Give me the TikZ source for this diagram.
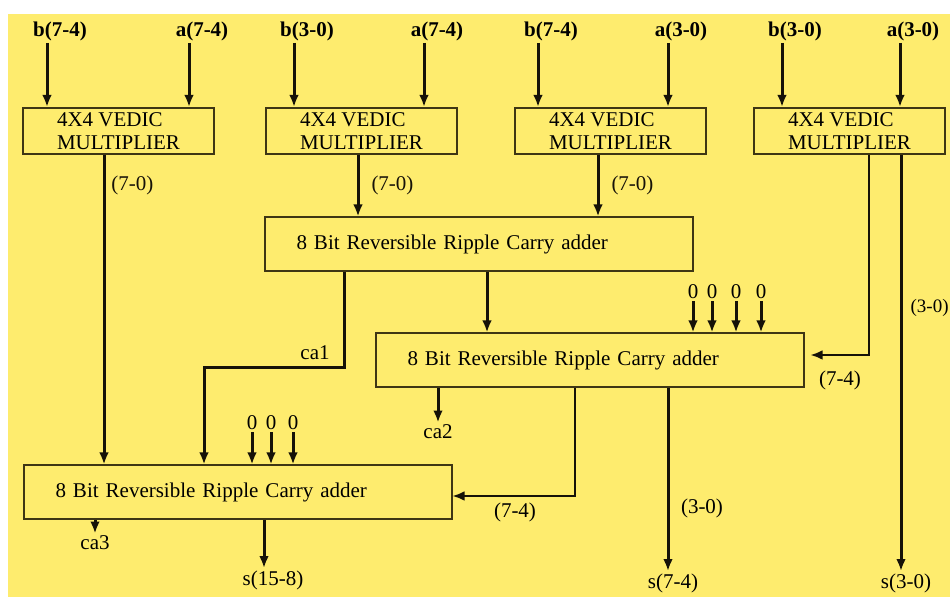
\documentclass[tikz,border=0pt]{standalone}
\usepackage{fontspec}
\setmainfont{Liberation Serif}
\usepackage{xcolor}
\definecolor{padyellow}{RGB}{254,236,110}
\definecolor{boxline}{RGB}{62,54,20}
\definecolor{wireblk}{RGB}{22,18,8}
\usepackage{tikz}
\usetikzlibrary{positioning,arrows.meta,calc}

\begin{document}
\begin{tikzpicture}[
  x=0.5pt, y=-0.5pt,
  font=\fontsize{10.5}{11.5}\selectfont,
  mult/.style={draw=boxline, line width=1pt, minimum width=95.5pt, minimum height=23pt, align=left, inner sep=2pt},
  adder/.style={draw=boxline, line width=1pt, text width=182pt, inner xsep=16pt, minimum height=27pt, align=left},
  wire/.style={-{Latex[length=6pt,width=4.8pt]}, line width=1.5pt, wireblk},
  thinwire/.style={wire, line width=0.9pt},
  inlbl/.style={font=\fontsize{10.5}{11.5}\selectfont\bfseries, inner sep=1pt},
  lbl/.style={inner sep=1pt}]
  \useasboundingbox (0,0) rectangle (950,597);
  \fill[white] (0,0) rectangle (950,597);
  \fill[padyellow] (8,14) rectangle (950,597);

  % multipliers
  \node[mult] (m1) at (118.5,131) {4X4 VEDIC\\MULTIPLIER};
  \node[mult, right=25pt of m1] (m2) {4X4 VEDIC\\MULTIPLIER};
  \node[mult, right=28pt of m2] (m3) {4X4 VEDIC\\MULTIPLIER};
  \node[mult, right=23pt of m3] (m4) {4X4 VEDIC\\MULTIPLIER};

  % adders
  \node[adder] (add1) at (478.5,244.5) {8 Bit Reversible Ripple Carry adder};
  \node[adder] (add2) at (589.5,360.5) {8 Bit Reversible Ripple Carry adder};
  \node[adder] (add3) at (237.5,492.5) {8 Bit Reversible Ripple Carry adder};

  % inputs
  \foreach \lx/\txt/\nm/\bx in {60/{b(7-4)}/b1/m1, 202/{a(7-4)}/a1/m1, 307/{b(3-0)}/b2/m2, 437/{a(7-4)}/a2/m2,
      551/{b(7-4)}/b3/m3, 681/{a(3-0)}/a3/m3, 795/{b(3-0)}/b4/m4, 913/{a(3-0)}/a4/m4} {
    \node[inlbl] (\nm) at (\lx,31) {\txt};
    \draw[wire] ([xshift=-6.5pt]\nm.south) -- ([xshift=-6.5pt]\nm.south |- \bx.north);
  }

  % multiplier outputs
  \draw[wire] (104,0 |- m1.south) -- node[lbl, right=2pt, pos=0.1] (p1) {(7-0)} (104,0 |- add3.north);
  \draw[wire] (358,0 |- m2.south) -- node[lbl, right=5pt] (p2) {(7-0)} (358,0 |- add1.north);
  \draw[wire] (598,0 |- m3.south) -- node[lbl, right=5pt] (p3) {(7-0)} (598,0 |- add1.north);
  \draw[thinwire] (869,0 |- m4.south) |- ([xshift=3pt,yshift=2.75pt]add2.east);
  \node[lbl] (p4) at (840,380) {(7-4)};
  \node[lbl] (s30) at (906,583) {s(3-0)};
  \draw[wire] (901,0 |- m4.south) -- (901,0 |- s30.north);
  \node[lbl, anchor=east, inner sep=0pt, font=\fontsize{9.5}{11}\selectfont] (p5) at (949,308) {(3-0)};

  % first adder outputs
  \draw[wire] (344,0 |- add1.south) -- (344,368) -| (204,0 |- add3.north);
  \node[lbl] (ca1) at (315,353) {ca1};
  \draw[wire] (487,0 |- add1.south) -- (487,0 |- add2.north);

  % constant zeros
  \foreach \zx [count=\i] in {693,712,736,761} {
    \node[lbl] (za\i) at (\zx,292) {0};
    \draw[wire] (za\i) -- (za\i |- add2.north);
  }
  \foreach \zx [count=\i] in {252,271,293} {
    \node[lbl] (zb\i) at (\zx,423) {0};
    \draw[wire] (zb\i) -- (zb\i |- add3.north);
  }

  % second adder outputs
  \node[lbl] (ca2) at (438,432) {ca2};
  \draw[wire] (ca2 |- add2.south) -- (ca2);
  \draw[thinwire] (575,0 |- add2.south) |- ([yshift=-1.75pt]add3.east);
  \node[lbl] (p6) at (515,512) {(7-4)};
  \node[lbl] (s74) at (673,583) {s(7-4)};
  \draw[wire] (668,0 |- add2.south) -- (668,0 |- s74.north);
  \node[lbl] (p7) at (702,508) {(3-0)};

  % last adder outputs
  \node[lbl] (ca3) at (95,543) {ca3};
  \draw[wire] (ca3 |- add3.south) -- (ca3);
  \node[lbl] (s158) at (273,580) {s(15-8)};
  \draw[wire] (264,0 |- add3.south) -- (264,0 |- s158.north);
\end{tikzpicture}
\end{document}
